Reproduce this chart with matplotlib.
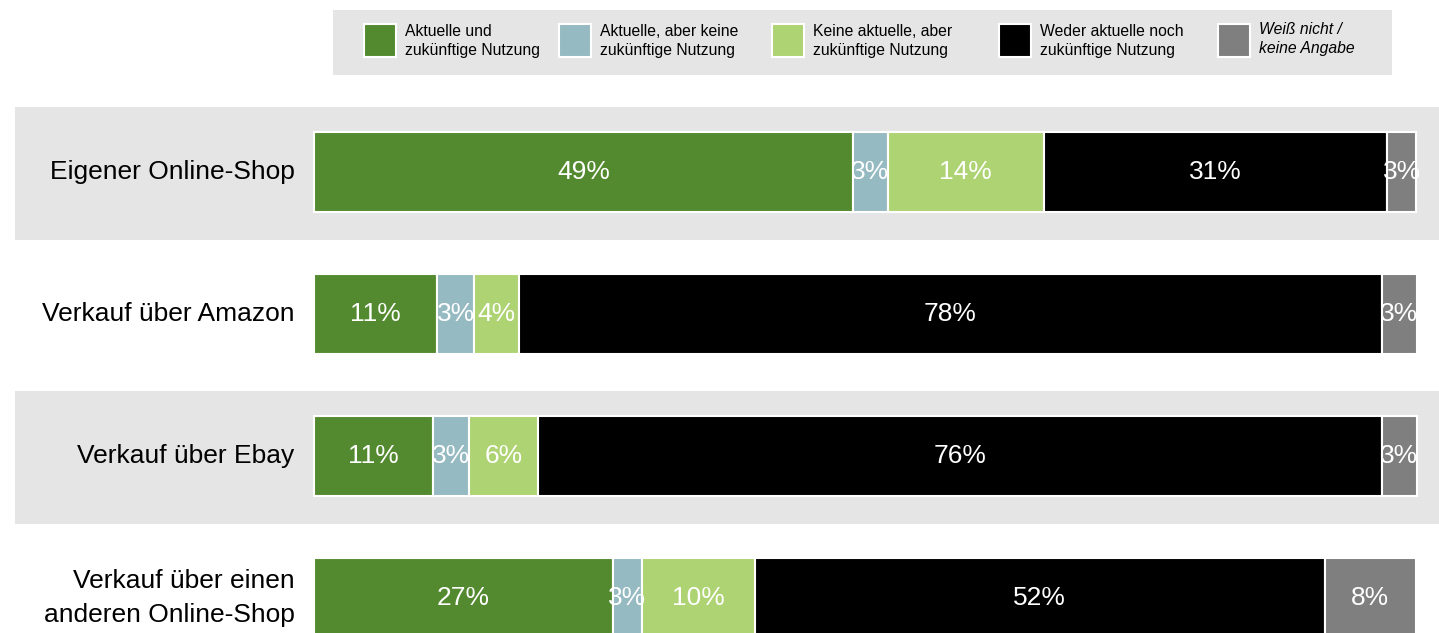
import numpy as np
import matplotlib.pyplot as plt
from matplotlib.patches import Rectangle

plt.rcParams['font.family'] = ['Liberation Sans', 'DejaVu Sans']

categories = ['Eigener Online-Shop', 'Verkauf über Amazon', 'Verkauf über Ebay',
              'Verkauf über einen\nanderen Online-Shop']
series = ['Aktuelle und\nzukünftige Nutzung', 'Aktuelle, aber keine\nzukünftige Nutzung',
          'Keine aktuelle, aber\nzukünftige Nutzung', 'Weder aktuelle noch\nzukünftige Nutzung',
          'Weiß nicht /\nkeine Angabe']
current_future = [48.9, 11.2, 10.8, 27.1]
current_only = [3.2, 3.3, 3.3, 2.7]
future_only = [14.1, 4.1, 6.2, 10.2]
neither = [31.2, 78.3, 76.6, 51.7]
dont_know = [2.6, 3.2, 3.2, 8.3]
labels = [[49, 11, 11, 27], [3, 3, 3, 3], [14, 4, 6, 10], [31, 78, 76, 52], [3, 3, 3, 8]]
colors = ['#548a2f', '#95bac1', '#aed372', '#000000', '#7f7f7f']
band_color = '#e5e5e5'

W, H = 1439, 633
fig = plt.figure(figsize=(W / 100, H / 100), dpi=100)

def fx(p):
    return p / W

def fy(p):
    return 1 - p / H

# main axes: x pixel 15..1439, y pixel 90..633 ; 0% at 314 px, 100% at 1416 px
ax = fig.add_axes([fx(15), fy(633), fx(1439 - 15), (633 - 90) / H])
ppu = (1416 - 314) / 100.0
ax.set_xlim(-(314 - 15) / ppu, (1439 - 314) / ppu)
row_gap = 142.0
ax.set_ylim((633 - 172) / row_gap, (90 - 172) / row_gap)
ax.axis('off')

y = np.arange(len(categories))
# alternating grey bands
for i in y[::2]:
    ax.axhspan(i - 0.47 + 0.01, i + 0.47 + 0.01, color=band_color, zorder=0, lw=0)

data = [current_future, current_only, future_only, neither, dont_know]
left = np.zeros(len(categories))
for vals, lab, col in zip(data, labels, colors):
    vals = np.array(vals)
    ax.barh(y, vals, left=left, height=0.57, color=col, edgecolor='white', linewidth=1.5, zorder=2)
    for yi, l, v, t in zip(y, left, vals, lab):
        ax.text(l + v / 2, yi, f'{t}%', ha='center', va='center', color='white',
                fontsize=19, zorder=3)
    left += vals

for yi, c in zip(y, categories):
    ax.text(-1.75, yi, c, ha='right', va='center', fontsize=19, color='black',
            linespacing=1.5)

# legend box
fig.patches.append(Rectangle((fx(333), fy(75)), fx(1392 - 333), (75 - 10) / H,
                             transform=fig.transFigure, facecolor=band_color, edgecolor='none'))
sw_x = [364, 559, 772, 999, 1218]
for i, (sx, name, col) in enumerate(zip(sw_x, series, colors)):
    fig.patches.append(Rectangle((fx(sx), fy(57)), fx(32), 33 / H, transform=fig.transFigure,
                                 facecolor=col, edgecolor='white', linewidth=1.5))
    fig.text(fx(sx + 41), fy(41 if i < 4 else 39), name, ha='left', va='center', fontsize=11.3,
             linespacing=1.3, style='italic' if i == 4 else 'normal', color='black')

fig.savefig('out.png', dpi=100)
